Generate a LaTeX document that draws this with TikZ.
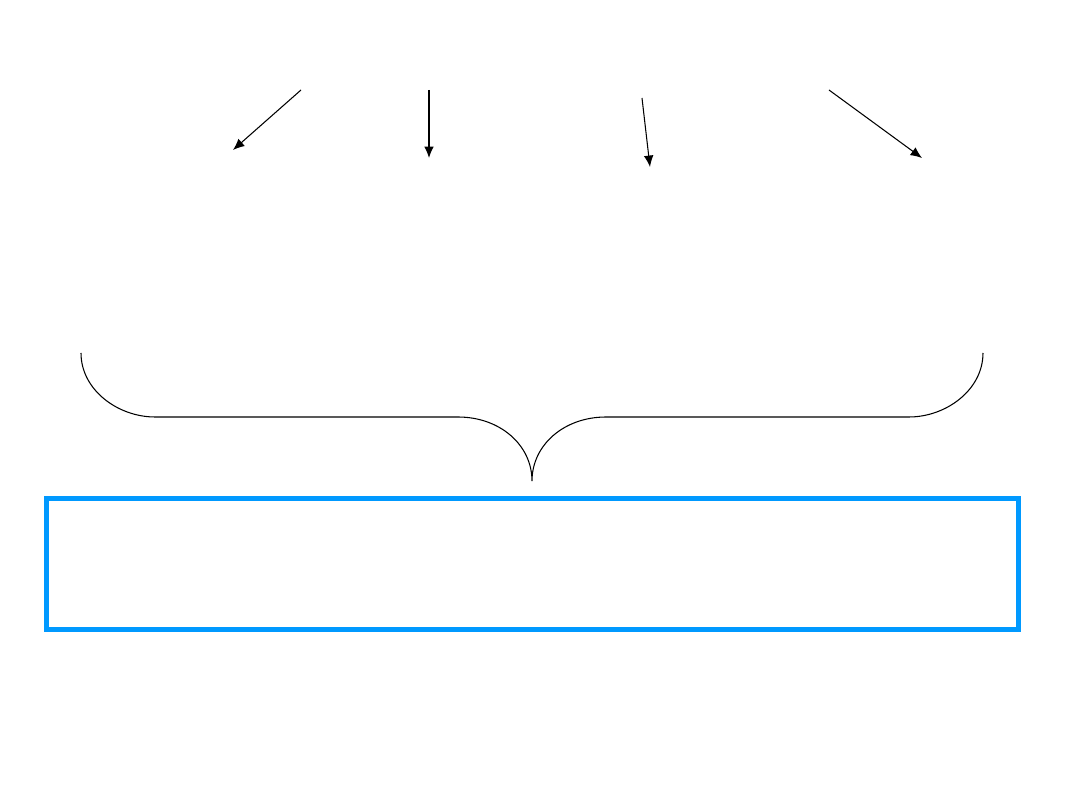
\documentclass[tikz,border=0pt]{standalone}
\usetikzlibrary{arrows.meta}
\definecolor{boxblue}{RGB}{0,153,255}
\tikzset{
  pointer/.style={line width=0.6pt, -{Latex[length=6.5pt,width=5.5pt]}},
  brace/.style={line width=0.6pt},
  bluebox/.style={draw=boxblue, line width=2.8pt}
}
\begin{document}
\begin{tikzpicture}[x=0.02cm, y=-0.02cm]
\useasboundingbox (0,0) rectangle (1080,810);

% ---------- arrows ----------
\coordinate (s1) at (301,90);  \coordinate (e1) at (233,150);
\coordinate (s2) at (429,90);  \coordinate (e2) at (429,158);
\coordinate (s3) at (642,98);  \coordinate (e3) at (650,167);
\coordinate (s4) at (829,90);  \coordinate (e4) at (922,158);
\draw[pointer] (s1) -- (e1);
\draw[pointer] (s2) -- (e2);
\draw[pointer] (s3) -- (e3);
\draw[pointer] (s4) -- (e4);

% ---------- brace ----------
\draw[brace] (81,353) .. controls (81,390) and (118,417) .. (155,417)
  -- (458,417) .. controls (500,417) and (532,445) .. (532,481)
  .. controls (532,445) and (564,417) .. (606,417)
  -- (909,417) .. controls (946,417) and (983,390) .. (983,353);

% ---------- box ----------
\node[bluebox, minimum width=972*0.02cm, minimum height=131*0.02cm,
  inner sep=0pt] (result) at (532.5,564) {};

\end{tikzpicture}
\end{document}
